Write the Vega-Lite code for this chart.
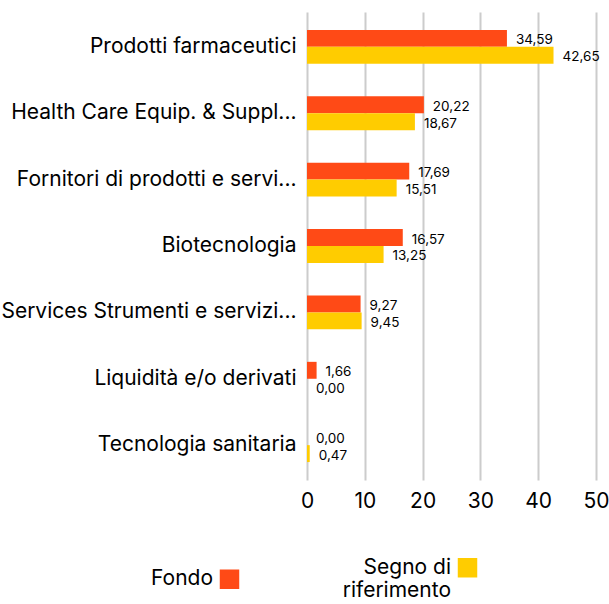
{
  "$schema": "https://vega.github.io/schema/vega-lite/v6.json",
  "width": 289,
  "height": 468,
  "padding": {"left": 0, "top": 12, "right": 0, "bottom": 0},
  "config": {
    "font": "Inter",
    "view": {"stroke": null},
    "locale": {"number": {"decimal": ",", "thousands": ".", "grouping": [3], "currency": ["€", ""]}}
  },
  "data": {
    "values": [
      {"category": "Prodotti farmaceutici", "series": "Fondo", "value": 34.59},
      {"category": "Prodotti farmaceutici", "series": "Segno di riferimento", "value": 42.65},
      {"category": "Health Care Equip. & Suppl...", "series": "Fondo", "value": 20.22},
      {"category": "Health Care Equip. & Suppl...", "series": "Segno di riferimento", "value": 18.67},
      {"category": "Fornitori di prodotti e servi...", "series": "Fondo", "value": 17.69},
      {"category": "Fornitori di prodotti e servi...", "series": "Segno di riferimento", "value": 15.51},
      {"category": "Biotecnologia", "series": "Fondo", "value": 16.57},
      {"category": "Biotecnologia", "series": "Segno di riferimento", "value": 13.25},
      {"category": "Services Strumenti e servizi...", "series": "Fondo", "value": 9.27},
      {"category": "Services Strumenti e servizi...", "series": "Segno di riferimento", "value": 9.45},
      {"category": "Liquidità e/o derivati", "series": "Fondo", "value": 1.66},
      {"category": "Liquidità e/o derivati", "series": "Segno di riferimento", "value": 0.0},
      {"category": "Tecnologia sanitaria", "series": "Fondo", "value": 0.0},
      {"category": "Tecnologia sanitaria", "series": "Segno di riferimento", "value": 0.47}
    ]
  },
  "encoding": {
    "y": {
      "field": "category",
      "type": "nominal",
      "sort": null,
      "scale": {"paddingInner": 0.49, "paddingOuter": 0.27},
      "axis": {
        "title": null,
        "domain": false,
        "ticks": false,
        "labelFontSize": 21,
        "labelPadding": 11,
        "labelColor": "#000000",
        "labelLimit": 400
      }
    }
  },
  "layer": [
    {
      "mark": {"type": "bar"},
      "encoding": {
        "x": {
          "field": "value",
          "type": "quantitative",
          "scale": {"domain": [0, 50], "nice": false},
          "axis": {
            "title": null,
            "values": [0, 10, 20, 30, 40, 50],
            "grid": true,
            "gridColor": "#cccccc",
            "gridWidth": 2,
            "domain": false,
            "ticks": false,
            "labelFontSize": 21,
            "labelColor": "#000000",
            "labelPadding": 10,
            "labelFlush": false
          }
        },
        "yOffset": {"field": "series", "type": "nominal", "sort": ["Fondo", "Segno di riferimento"]},
        "color": {
          "field": "series",
          "type": "nominal",
          "scale": {"domain": ["Fondo", "Segno di riferimento"], "range": ["#FF4A16", "#FFCC00"]},
          "legend": {
            "title": null,
            "orient": "none",
            "legendX": -88,
            "legendY": 545,
            "direction": "horizontal",
            "symbolType": "square",
            "symbolSize": 380,
            "symbolStrokeWidth": 0,
            "symbolOpacity": 1,
            "labelFontSize": 21,
            "labelColor": "#000000",
            "labelAlign": "right",
            "labelOffset": -27,
            "labelLimit": 300,
            "columnPadding": 102,
            "labelExpr": "datum.label == 'Segno di riferimento' ? ['Segno di', 'riferimento'] : datum.label"
          }
        }
      }
    },
    {
      "mark": {"type": "text", "align": "left", "dx": 9, "dy": 2, "fontSize": 13.5, "color": "#000000"},
      "encoding": {
        "x": {"field": "value", "type": "quantitative"},
        "yOffset": {"field": "series", "type": "nominal", "sort": ["Fondo", "Segno di riferimento"]},
        "text": {"field": "value", "type": "quantitative", "format": ".2f"}
      }
    },
    {
      "mark": {"type": "rule", "color": "#000000", "strokeWidth": 4},
      "encoding": {"x": {"datum": 0}}
    }
  ]
}
